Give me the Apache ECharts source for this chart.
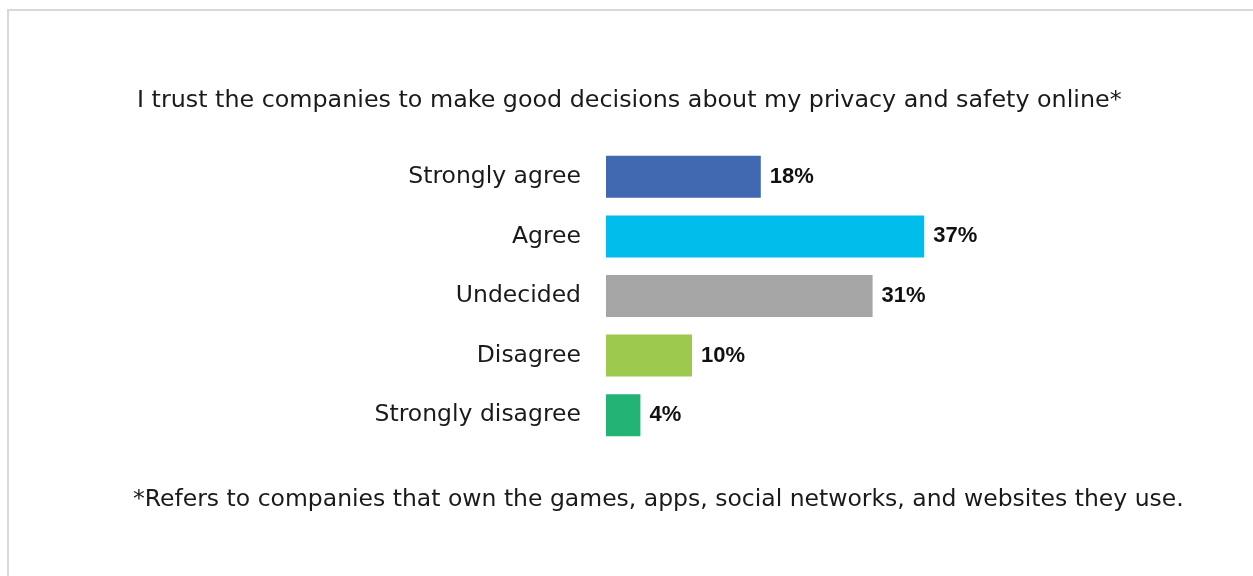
<!DOCTYPE html>
<html>
<head>
<meta charset="utf-8">
<script src="https://cdn.jsdelivr.net/npm/echarts@6/dist/echarts.min.js"></script>
<style>
  html, body { margin: 0; padding: 0; background: #ffffff; }
  #chart { width: 1253px; height: 576px; }
</style>
</head>
<body>
<div id="chart"></div>
<script>
// Survey responses, share of respondents (%)
const categories = ['Strongly agree', 'Agree', 'Undecided', 'Disagree', 'Strongly disagree'];
const values = [18, 37, 31, 10, 4];
const barColors = ['#4169b1', '#00bdeb', '#a6a6a6', '#9dca4e', '#21b475'];

const titleText = 'I trust the companies to make good decisions about my privacy and safety online*';
const noteText = '*Refers to companies that own the games, apps, social networks, and websites they use.';

const FONT = '"DejaVu Sans", "Noto Sans", sans-serif';
const VALUE_FONT = '"Liberation Sans", Arial, sans-serif';
const TEXT_COLOR = '#1a1a1a';

const chart = echarts.init(document.getElementById('chart'), null, { renderer: 'canvas' });

chart.setOption({
  backgroundColor: '#ffffff',
  animation: false,
  title: [
    {
      text: titleText,
      left: 132,
      top: 84,
      textStyle: { fontFamily: FONT, fontSize: 23.8, fontWeight: 'normal', color: TEXT_COLOR }
    },
    {
      text: noteText,
      left: 128,
      top: 483,
      textStyle: { fontFamily: FONT, fontSize: 23.5, fontWeight: 'normal', color: TEXT_COLOR }
    }
  ],
  graphic: [
    {
      type: 'rect',
      silent: true,
      shape: { x: 8, y: 10, width: 1270, height: 600 },
      style: { fill: 'none', stroke: '#d9d9d9', lineWidth: 2 }
    }
  ],
  grid: { left: 606, right: 217, top: 147, bottom: 131, containLabel: false },
  xAxis: {
    type: 'value',
    min: 0,
    max: 50,
    show: false,
    splitLine: { show: false }
  },
  yAxis: {
    type: 'category',
    data: categories,
    inverse: true,
    axisLine: { show: false },
    axisTick: { show: false },
    axisLabel: { margin: 25, fontFamily: FONT, fontSize: 23.5, color: TEXT_COLOR, padding: [4, 0, 0, 0] }
  },
  series: [
    {
      type: 'bar',
      barWidth: 42,
      data: values.map((v, i) => ({ value: v, itemStyle: { color: barColors[i] } })),
      label: {
        show: true,
        position: 'right',
        distance: 9,
        formatter: '{c}%',
        fontFamily: VALUE_FONT,
        fontSize: 22,
        fontWeight: 'bold',
        color: '#111111'
      }
    }
  ]
});
</script>
</body>
</html>
